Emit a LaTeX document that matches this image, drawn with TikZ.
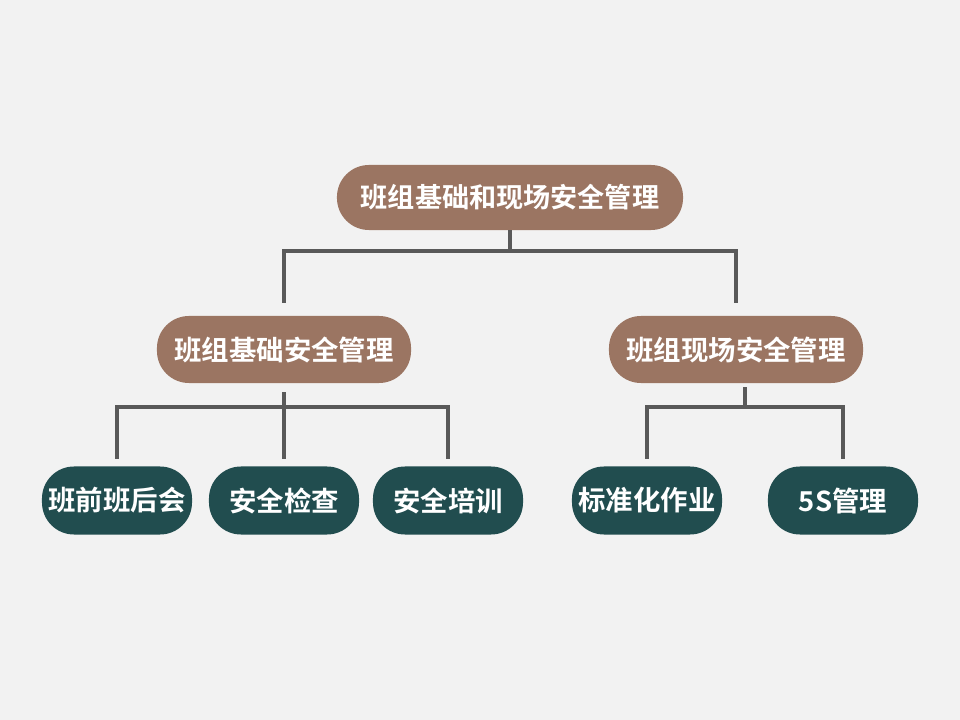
\documentclass[tikz,border=0pt]{standalone}
\usepackage{fontspec}
\usepackage{xcolor}
\usepackage{tikz}
\usetikzlibrary{calc,positioning}
\newfontfamily\cjk{Noto Sans CJK SC}[BoldFont={Noto Sans CJK SC Bold}]
\definecolor{pagegray}{RGB}{242,242,242}
\definecolor{softbrown}{RGB}{155,117,98}
\definecolor{deepteal}{RGB}{33,77,79}
\definecolor{linkgray}{RGB}{89,89,89}

\begin{document}
\begin{tikzpicture}[
  x=0.025cm,y=-0.025cm,
  rootbox/.style={fill=softbrown,rounded corners=0.8cm,text=white,align=center,
              minimum width=8.65cm,minimum height=1.625cm,font=\cjk\bfseries\fontsize{19.3}{22}\selectfont},
  midbox/.style={fill=softbrown,rounded corners=0.8cm,text=white,align=center,
              minimum width=6.35cm,minimum height=1.675cm,font=\cjk\bfseries\fontsize{19.5}{22}\selectfont},
  leafbox/.style={fill=deepteal,rounded corners=0.8cm,text=white,align=center,
              minimum width=3.75cm,minimum height=1.7cm,font=\cjk\bfseries\fontsize{19.5}{22}\selectfont},
  link/.style={draw=linkgray,line width=0.1cm}]
\fill[pagegray] (0,0) rectangle (960,720);
\useasboundingbox (0,0) rectangle (960,720);
\node[rootbox] (root) at (510,197.5) {班组基础和现场安全管理};
\node[midbox] (basic) at (284,349.5) {班组基础安全管理};
\node[midbox] (site) at (736,349.5) {班组现场安全管理};
\node[leafbox] (meet) at (117,500.5) {班前班后会};
\node[leafbox] (check) at (284,500.5) {安全检查};
\node[leafbox] (train) at (448,500.5) {安全培训};
\node[leafbox] (std) at (647,500.5) {标准化作业};
\node[leafbox] (fives) at (843,500.5) {5S管理};
\coordinate (sj) at ($(std.north)!0.5!(fives.north)$);
\draw[link] (root.south) -- ++(0,21) coordinate (rj);
\draw[link,shorten >=0.325cm] (rj) -| (basic.north);
\draw[link,shorten >=0.325cm] (rj) -| (site.north);
\draw[link,shorten <=0.225cm] (basic.south) -- ++(0,24) coordinate (bj);
\draw[link,shorten >=0.175cm] (bj) -| (meet.north);
\draw[link,shorten >=0.175cm] (bj) -- (check.north);
\draw[link,shorten >=0.175cm] (bj) -| (train.north);
\draw[link,shorten <=0.1cm] (sj |- site.south) -- ++(0,24) coordinate (sh);
\draw[link,shorten >=0.175cm] (sh) -| (std.north);
\draw[link,shorten >=0.175cm] (sh) -| (fives.north);
\end{tikzpicture}
\end{document}
